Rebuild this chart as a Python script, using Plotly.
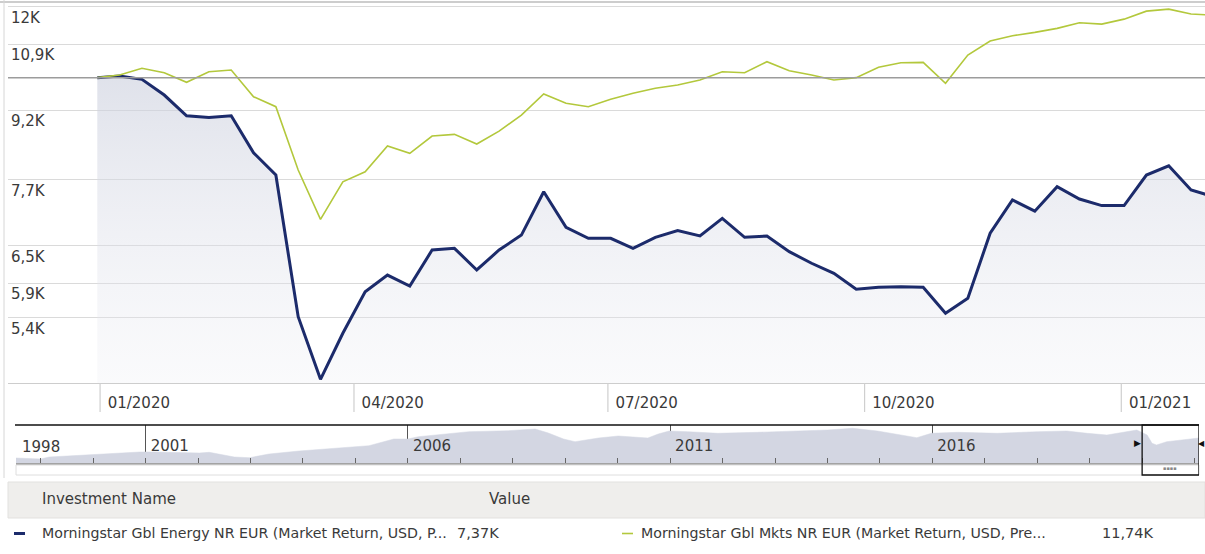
import plotly.graph_objects as go

# ---------------- data ----------------
dates = [
    "2019-12-31", "2020-01-08", "2020-01-16", "2020-01-24", "2020-02-01", "2020-02-09",
    "2020-02-17", "2020-02-25", "2020-03-04", "2020-03-12", "2020-03-20", "2020-03-28",
    "2020-04-05", "2020-04-13", "2020-04-21", "2020-04-29", "2020-05-07", "2020-05-15",
    "2020-05-23", "2020-05-31", "2020-06-08", "2020-06-16", "2020-06-24", "2020-07-02",
    "2020-07-10", "2020-07-18", "2020-07-26", "2020-08-03", "2020-08-11", "2020-08-19",
    "2020-08-27", "2020-09-04", "2020-09-12", "2020-09-20", "2020-09-28", "2020-10-06",
    "2020-10-14", "2020-10-22", "2020-10-30", "2020-11-07", "2020-11-15", "2020-11-23",
    "2020-12-01", "2020-12-09", "2020-12-17", "2020-12-25", "2021-01-02", "2021-01-10",
    "2021-01-18", "2021-01-26", "2021-02-03",
]
energy = [
    10000, 10041, 9956, 9563, 9068, 9030, 9068, 8246, 7787, 5413, 4609, 5188,
    5770, 6023, 5856, 6424, 6452, 6103, 6424, 6675, 7461, 6810, 6620, 6620,
    6452, 6637, 6751, 6660, 6968, 6637, 6660, 6396, 6209, 6050, 5807, 5837,
    5846, 5837, 5460, 5675, 6706, 7304, 7098, 7557, 7323, 7200, 7200, 7787,
    7975, 7493, 7370,
]
markets = [
    10000, 10067, 10242, 10127, 9880, 10153, 10197, 9521, 9281, 7888, 6950, 7654,
    7854, 8390, 8234, 8608, 8645, 8433, 8718, 9084, 9588, 9362, 9281, 9458,
    9605, 9730, 9812, 9939, 10153, 10127, 10417, 10179, 10067, 9939, 10000, 10268,
    10390, 10401, 9855, 10598, 10985, 11135, 11232, 11348, 11514, 11474, 11621, 11862,
    11924, 11775, 11740,
]
series_names = [
    "Morningstar Gbl Energy NR EUR (Market Return, USD, P...",
    "Morningstar Gbl Mkts NR EUR (Market Return, USD, Pre...",
]
initial_value = 10000
y_ticks = [12000, 10900, 9200, 7700, 6500, 5900, 5400]
x_ticks = ["2020-01-01", "2020-04-01", "2020-07-01", "2020-10-01", "2021-01-01"]

# navigator (long-term overview) values
nav_dates = [
    "1998-07-13", "1999-01-01", "1999-03-01", "2000-02-15", "2000-11-20", "2001-03-01",
    "2002-01-10", "2002-03-20", "2002-09-10", "2002-12-25", "2003-05-10", "2003-12-05",
    "2004-09-10", "2005-04-05", "2005-09-25", "2006-01-01", "2006-03-15", "2006-08-01",
    "2007-03-01", "2007-12-01", "2008-06-05", "2008-09-05", "2008-12-20", "2009-03-10",
    "2009-08-20", "2010-01-05", "2010-05-20", "2010-07-30", "2010-10-10", "2010-12-25",
    "2011-05-05", "2011-11-30", "2012-09-01", "2013-06-05", "2014-01-01", "2014-06-25",
    "2014-12-15", "2015-09-15", "2015-12-25", "2016-06-25", "2017-03-30", "2018-01-01",
    "2018-07-25", "2018-12-15", "2019-05-01", "2019-11-25", "2020-02-05", "2020-03-10",
    "2020-04-10", "2020-06-20", "2020-10-01", "2021-01-01", "2021-01-31",
]
nav_values = [
    5, 4, 6, 9, 11, 11,
    10, 10.7, 6, 5.3, 9, 12,
    15, 17.3, 24, 24, 26.3, 28,
    31.3, 32.3, 34, 30, 24, 21.3,
    25, 27, 26, 25, 29, 32,
    31.3, 29.7, 30.7, 32, 33, 34.7,
    32, 25.3, 29.7, 30.7, 29.7, 31.3,
    32, 29.7, 28, 33, 28, 19.7,
    18, 21.3, 23, 25, 25,
]
nav_major = ["2001-01-01", "2006-01-01", "2011-01-01", "2016-01-01"]
nav_major_text = ["2001", "2006", "2011", "2016"]
nav_first_label = "1998"
window = ["2020-01-01", "2021-01-31"]

# ---------------- style ----------------
W, H = 1205, 554
FONT = "DejaVu Sans"
TXT = "#3a3a3a"
NAVY = "#1c2b6b"
GREEN = "#b3c83c"
FS = 15


def px(v):
    return v / W


def py(v):
    return 1 - v / H


def kfmt(v, dec=None):
    if dec is None:
        s = f"{v / 1000:g}"
    else:
        s = f"{v / 1000:.{dec}f}"
    return s.replace(".", ",") + "K"


y_bottom = 10 ** 3.6595

fig = go.Figure()

fig.add_trace(go.Scatter(
    x=dates, y=energy, mode="lines", name=series_names[0],
    line=dict(color=NAVY, width=3),
    fill="tozeroy",
    fillgradient=dict(type="vertical", start=y_bottom, stop=max(energy),
                      colorscale=[[0, "rgba(235,236,242,0.25)"], [1, "rgba(204,208,222,0.62)"]]),
    xaxis="x", yaxis="y", showlegend=False,
))
fig.add_trace(go.Scatter(
    x=dates, y=markets, mode="lines", name=series_names[1],
    line=dict(color=GREEN, width=1.6),
    xaxis="x", yaxis="y", showlegend=False,
))
fig.add_trace(go.Scatter(
    x=nav_dates, y=nav_values, mode="lines", line=dict(color="#d3d6e2", width=0.5),
    fill="tozeroy", fillcolor="#d3d6e2", xaxis="x2", yaxis="y2", showlegend=False,
    hoverinfo="skip",
))

shapes = []
# reference line at initial investment
shapes.append(dict(type="line", xref="x domain", x0=0, x1=1, yref="y",
                   y0=initial_value, y1=initial_value, line=dict(color="#9c9c9c", width=1.5)))
# x tick separators below the axis
for d in x_ticks:
    shapes.append(dict(type="line", xref="x", x0=d, x1=d, yref="paper",
                       y0=py(383), y1=py(412), line=dict(color="#cfcfcf", width=1.2)))
# frame lines
shapes.append(dict(type="line", xref="paper", x0=0, x1=1, yref="paper", y0=py(2), y1=py(2),
                   line=dict(color="#cdcdcd", width=2)))
shapes.append(dict(type="line", xref="paper", x0=px(4), x1=px(4), yref="paper", y0=py(0), y1=py(478),
                   line=dict(color="#d6d6d6", width=1)))
# navigator frame
shapes.append(dict(type="line", xref="paper", x0=px(15), x1=px(1199), yref="paper",
                   y0=py(425), y1=py(425), line=dict(color="#111111", width=1.6)))
shapes.append(dict(type="rect", xref="paper", x0=px(16), x1=px(1199), yref="paper",
                   y0=py(465), y1=py(475), line=dict(color="#dedede", width=1)))
shapes.append(dict(type="rect", xref="x2", x0=window[0], x1=window[1], yref="paper",
                   y0=py(475), y1=py(425), line=dict(color="#111111", width=1.3)))
# legend table
shapes.append(dict(type="rect", xref="paper", x0=px(8), x1=1, yref="paper",
                   y0=py(518), y1=py(482), fillcolor="#efeeec", line=dict(color="#e2e1df", width=1),
                   layer="below"))
shapes.append(dict(type="line", xref="paper", x0=px(14), x1=px(25), yref="paper",
                   y0=py(533.5), y1=py(533.5), line=dict(color=NAVY, width=3)))
shapes.append(dict(type="line", xref="paper", x0=px(622), x1=px(633), yref="paper",
                   y0=py(533.5), y1=py(533.5), line=dict(color=GREEN, width=1.6)))

tf = dict(family=FONT, size=FS, color=TXT)
annotations = []


def txt(s, x, y, size=FS, color=TXT, anchor="left"):
    annotations.append(dict(text=s, xref="paper", yref="paper", x=px(x), y=py(y),
                            xanchor=anchor, yanchor="middle", showarrow=False,
                            font=dict(family=FONT, size=size, color=color)))


txt(nav_first_label, 20, 447)
txt("Investment Name", 40, 499)
txt("Value", 487, 499)
txt(series_names[0], 40, 533, size=14.2)
txt(kfmt(energy[-1], 2), 455, 533, size=14.5)
txt(series_names[1], 639, 533, size=14.2)
txt(kfmt(markets[-1], 2), 1100, 533, size=14.5)
txt("▶", 1137, 443, size=9, color="#111111", anchor="center")
txt("◀", 1201, 443, size=8, color="#111111", anchor="center")
txt("▪▪▪▪", 1170, 468, size=5, color="#888888", anchor="center")

fig.update_layout(
    width=W, height=H,
    margin=dict(l=0, r=0, t=0, b=0),
    paper_bgcolor="white", plot_bgcolor="white",
    font=tf,
    shapes=shapes,
    annotations=annotations,
    xaxis=dict(
        type="date", domain=[px(8), 1], range=["2019-11-29", "2021-01-31"],
        anchor="y", tickvals=x_ticks, tickformat="%m/%Y",
        showgrid=False, zeroline=False, showline=True, linecolor="#cdcdcd", linewidth=1.2,
        ticks="", ticklabelposition="outside right", ticklabelshift=7, ticklabelstandoff=6,
        tickfont=tf, fixedrange=True,
    ),
    yaxis=dict(
        type="log", domain=[py(383), py(5)], range=[3.6595, 4.081], anchor="x",
        tickvals=y_ticks, ticktext=[kfmt(v) for v in y_ticks],
        showgrid=True, gridcolor="#dadada", gridwidth=1, zeroline=False, showline=False,
        ticks="", ticklabelposition="inside", ticklabelshift=11, ticklabelstandoff=0,
        tickfont=tf, fixedrange=True,
    ),
    xaxis2=dict(
        type="date", domain=[px(16), px(1199)], range=["1998-07-13", "2021-01-31"],
        anchor="y2", tickvals=nav_major, ticktext=nav_major_text,
        showgrid=True, gridcolor="#555555", gridwidth=1, zeroline=False,
        showline=True, linecolor="#a3a3a3", linewidth=2,
        ticks="", ticklabelposition="inside right", ticklabelshift=4, ticklabelstandoff=6,
        tickfont=tf,
        minor=dict(dtick="M12", tick0="1999-01-01", ticks="inside", ticklen=5,
                   tickcolor="#666666", tickwidth=1, showgrid=False),
        fixedrange=True,
    ),
    yaxis2=dict(
        domain=[py(463), py(425)], range=[0, 38], anchor="x2",
        showgrid=False, zeroline=False, showticklabels=False, showline=False, fixedrange=True,
    ),
)

fig.write_html("out.html", config={"displayModeBar": False},
               post_script="document.body.style.margin='0px';")
